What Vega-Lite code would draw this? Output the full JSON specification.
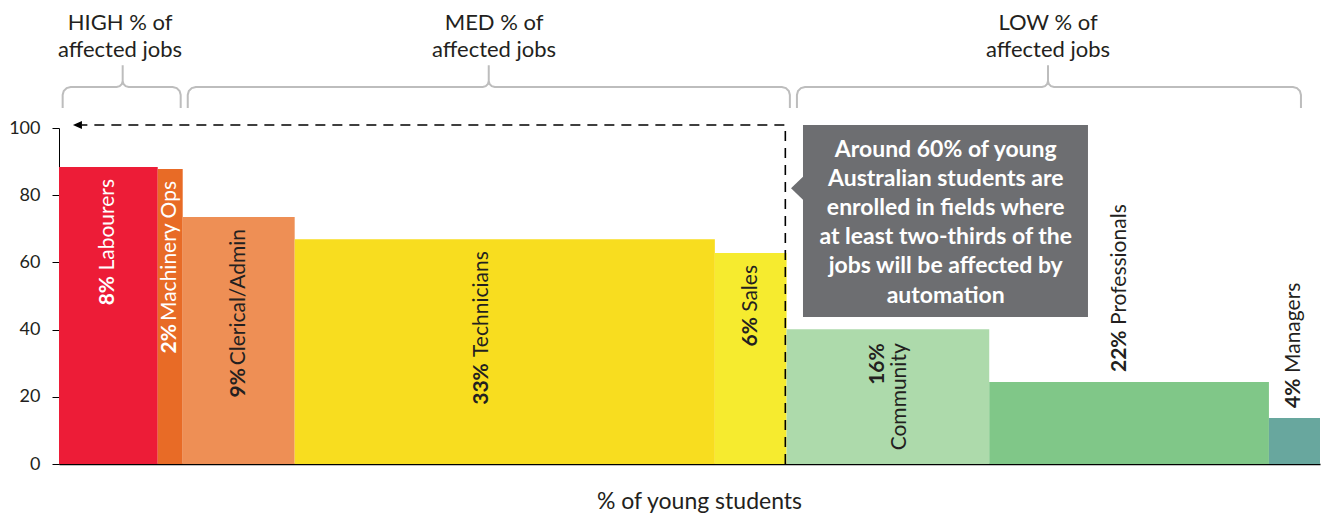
{
  "$schema": "https://vega.github.io/schema/vega-lite/v6.json",
  "width": 1261,
  "height": 336,
  "autosize": {"type": "none"},
  "padding": {"left": 59, "top": 128, "right": 7, "bottom": 59},
  "background": "white",
  "config": {
    "view": {"stroke": null},
    "font": "Lato",
    "axisY": {"tickCount": 5, "grid": false, "tickSize": 7, "tickColor": "#000000", "domainColor": "#000000", "labelFontSize": 18, "labelColor": "#231f20", "labelPadding": 12, "labelFont": "Lato"},
    "axisX": {"labels": false, "ticks": false, "grid": false, "domainColor": "#000000", "domainWidth": 1.5, "titleFontSize": 23, "titleFontWeight": "normal", "titleColor": "#231f20", "titleFont": "Lato", "titlePadding": 26, "titleX": 640}
  },
  "data": {
    "values": [
      {"name": "Labourers", "pct": "8%", "x0": 0, "x1": 7.83, "top": 88.4},
      {"name": "Machinery Ops", "pct": "2%", "x0": 7.83, "x1": 9.81, "top": 87.8},
      {"name": "Clerical/Admin", "pct": "9%", "x0": 9.81, "x1": 18.69, "top": 73.5},
      {"name": "Technicians", "pct": "33%", "x0": 18.69, "x1": 52.01, "top": 66.9},
      {"name": "Sales", "pct": "6%", "x0": 52.01, "x1": 57.7, "top": 62.8},
      {"name": "Community", "pct": "16%", "x0": 57.7, "x1": 73.77, "top": 40.1},
      {"name": "Professionals", "pct": "22%", "x0": 73.77, "x1": 95.95, "top": 24.4},
      {"name": "Managers", "pct": "4%", "x0": 95.95, "x1": 100, "top": 13.7}
    ]
  },
  "layer": [
    {
      "mark": {"type": "rect"},
      "encoding": {
        "x": {"field": "x0", "type": "quantitative", "scale": {"domain": [0, 100], "nice": false}, "title": "% of young students"},
        "x2": {"field": "x1"},
        "y": {"field": "top", "type": "quantitative", "scale": {"domain": [0, 100], "nice": false}, "title": null},
        "y2": {"datum": 0},
        "color": {
          "field": "name", "type": "nominal", "legend": null,
          "scale": {
            "domain": ["Labourers", "Machinery Ops", "Clerical/Admin", "Technicians", "Sales", "Community", "Professionals", "Managers"],
            "range": ["#ED1C37", "#E86B26", "#EE8F55", "#F8DD1F", "#F6EB2F", "#ADDAAB", "#80C788", "#68A79E"]
          }
        }
      }
    },
    {
      "transform": [
        {"fold": ["x0", "x1"], "as": ["edge", "xv"]},
        {"aggregate": [{"op": "mean", "field": "xv", "as": "mid"}], "groupby": ["name", "pct", "top"]}
      ],
      "mark": {
        "type": "text", "angle": 270, "baseline": "middle", "fontSize": 21, "font": "Lato",
        "align": {"expr": "datum.top < 30 ? 'left' : 'right'"},
        "dx": {"expr": "datum.top < 30 ? 21 + 12*length(datum.pct) : (datum.name == 'Community' ? -14 : -12)"},
        "dy": {"expr": "datum.name == 'Technicians' ? -23 : datum.name == 'Community' ? 12 : datum.name == 'Professionals' ? -9 : 0"}
      },
      "encoding": {
        "x": {"field": "mid", "type": "quantitative", "title": "% of young students"},
        "y": {"field": "top", "type": "quantitative", "title": null},
        "text": {"field": "name"},
        "color": {"condition": {"test": "datum.name == 'Labourers' || datum.name == 'Machinery Ops'", "value": "#ffffff"}, "value": "#231f20"}
      }
    },
    {
      "transform": [
        {"fold": ["x0", "x1"], "as": ["edge", "xv"]},
        {"aggregate": [{"op": "mean", "field": "xv", "as": "mid"}], "groupby": ["name", "pct", "top"]}
      ],
      "mark": {
        "type": "text", "angle": 270, "baseline": "middle", "fontSize": 21, "font": "Lato", "fontWeight": "bold",
        "align": {"expr": "datum.top < 30 ? 'left' : 'right'"},
        "dx": {"expr": "datum.top < 30 ? 10 : (datum.name == 'Community' ? -14 : -(17 + ({'Labourers': 92, 'Machinery Ops': 138, 'Clerical/Admin': 134, 'Technicians': 107, 'Sales': 47})[datum.name]))"},
        "dy": {"expr": "datum.name == 'Technicians' ? -23 : datum.name == 'Community' ? -10 : datum.name == 'Professionals' ? -9 : 0"}
      },
      "encoding": {
        "x": {"field": "mid", "type": "quantitative", "title": "% of young students"},
        "y": {"field": "top", "type": "quantitative", "title": null},
        "text": {"field": "pct"},
        "color": {"condition": {"test": "datum.name == 'Labourers' || datum.name == 'Machinery Ops'", "value": "#ffffff"}, "value": "#231f20"}
      }
    },
    {
      "data": {"values": [
        {"o": 1, "x": 57.6, "y": 0},
        {"o": 2, "x": 57.6, "y": 100.9},
        {"o": 3, "x": 1.82, "y": 100.9}
      ]},
      "mark": {"type": "line", "color": "#000000", "strokeWidth": 1.6, "strokeDash": [10, 7]},
      "encoding": {
        "x": {"field": "x", "type": "quantitative", "title": "% of young students"},
        "y": {"field": "y", "type": "quantitative", "title": null},
        "order": {"field": "o", "type": "quantitative"}
      }
    },
    {
      "data": {"values": [{"x": 1.82, "y": 100.9}]},
      "mark": {"type": "point", "shape": "M0,-1L-2.25,0L0,1Z", "filled": true, "color": "#000000", "opacity": 1, "size": 64, "strokeWidth": 0},
      "encoding": {
        "x": {"field": "x", "type": "quantitative", "title": "% of young students"},
        "y": {"field": "y", "type": "quantitative", "title": null}
      }
    },
    {
      "data": {"values": [{"x": 59.0, "x2": 81.6, "y": 100.9, "y2": 43.75}]},
      "mark": {"type": "rect", "color": "#6D6E71"},
      "encoding": {
        "x": {"field": "x", "type": "quantitative", "title": "% of young students"},
        "x2": {"field": "x2"},
        "y": {"field": "y", "type": "quantitative", "title": null},
        "y2": {"field": "y2"}
      }
    },
    {
      "data": {"values": [{"x": 59.0, "y": 82.1}]},
      "mark": {"type": "point", "shape": "M0,-1L-1.04,0L0,1Z", "filled": true, "color": "#6D6E71", "opacity": 1, "size": 529, "strokeWidth": 0},
      "encoding": {
        "x": {"field": "x", "type": "quantitative", "title": "% of young students"},
        "y": {"field": "y", "type": "quantitative", "title": null}
      }
    },
    {
      "data": {"values": [{"note": "Around 60% of young\nAustralian students are\nenrolled in fields where\nat least two-thirds of the\njobs will be affected by\nautomation"}]},
      "mark": {"type": "text", "align": "center", "baseline": "alphabetic", "lineBreak": "\n", "lineHeight": 29.2, "fontSize": 23, "fontWeight": "bold", "font": "Lato", "color": "#ffffff"},
      "encoding": {
        "x": {"datum": 70.32, "type": "quantitative"},
        "y": {"datum": 91.46, "type": "quantitative"},
        "text": {"field": "note"}
      }
    },
    {
      "data": {"values": [
        {"b": "HIGH", "o": 1, "x": 0.29, "y": 105.95}, {"b": "HIGH", "o": 2, "x": 0.29, "y": 109.82}, {"b": "HIGH", "o": 3, "x": 0.375, "y": 111.01}, {"b": "HIGH", "o": 4, "x": 0.607, "y": 111.88}, {"b": "HIGH", "o": 5, "x": 0.925, "y": 112.2},
        {"b": "HIGH", "o": 6, "x": 4.574, "y": 112.2}, {"b": "HIGH", "o": 7, "x": 4.812, "y": 112.44}, {"b": "HIGH", "o": 8, "x": 4.987, "y": 113.1}, {"b": "HIGH", "o": 9, "x": 5.05, "y": 113.99}, {"b": "HIGH", "o": 10, "x": 5.05, "y": 118.7},
        {"b": "HIGH", "o": 11, "x": 5.05, "y": 113.99}, {"b": "HIGH", "o": 12, "x": 5.113, "y": 113.1}, {"b": "HIGH", "o": 13, "x": 5.288, "y": 112.44}, {"b": "HIGH", "o": 14, "x": 5.526, "y": 112.2},
        {"b": "HIGH", "o": 15, "x": 9.015, "y": 112.2}, {"b": "HIGH", "o": 16, "x": 9.333, "y": 111.88}, {"b": "HIGH", "o": 17, "x": 9.565, "y": 111.01}, {"b": "HIGH", "o": 18, "x": 9.65, "y": 109.82}, {"b": "HIGH", "o": 19, "x": 9.65, "y": 105.95},
        {"b": "MED", "o": 1, "x": 10.21, "y": 105.95}, {"b": "MED", "o": 2, "x": 10.21, "y": 109.82}, {"b": "MED", "o": 3, "x": 10.295, "y": 111.01}, {"b": "MED", "o": 4, "x": 10.527, "y": 111.88}, {"b": "MED", "o": 5, "x": 10.845, "y": 112.2},
        {"b": "MED", "o": 6, "x": 33.604, "y": 112.2}, {"b": "MED", "o": 7, "x": 33.842, "y": 112.44}, {"b": "MED", "o": 8, "x": 34.017, "y": 113.1}, {"b": "MED", "o": 9, "x": 34.08, "y": 113.99}, {"b": "MED", "o": 10, "x": 34.08, "y": 118.7},
        {"b": "MED", "o": 11, "x": 34.08, "y": 113.99}, {"b": "MED", "o": 12, "x": 34.143, "y": 113.1}, {"b": "MED", "o": 13, "x": 34.318, "y": 112.44}, {"b": "MED", "o": 14, "x": 34.556, "y": 112.2},
        {"b": "MED", "o": 15, "x": 57.325, "y": 112.2}, {"b": "MED", "o": 16, "x": 57.643, "y": 111.88}, {"b": "MED", "o": 17, "x": 57.875, "y": 111.01}, {"b": "MED", "o": 18, "x": 57.96, "y": 109.82}, {"b": "MED", "o": 19, "x": 57.96, "y": 105.95},
        {"b": "LOW", "o": 1, "x": 58.52, "y": 105.95}, {"b": "LOW", "o": 2, "x": 58.52, "y": 109.82}, {"b": "LOW", "o": 3, "x": 58.605, "y": 111.01}, {"b": "LOW", "o": 4, "x": 58.837, "y": 111.88}, {"b": "LOW", "o": 5, "x": 59.155, "y": 112.2},
        {"b": "LOW", "o": 6, "x": 77.954, "y": 112.2}, {"b": "LOW", "o": 7, "x": 78.192, "y": 112.44}, {"b": "LOW", "o": 8, "x": 78.367, "y": 113.1}, {"b": "LOW", "o": 9, "x": 78.43, "y": 113.99}, {"b": "LOW", "o": 10, "x": 78.43, "y": 118.7},
        {"b": "LOW", "o": 11, "x": 78.43, "y": 113.99}, {"b": "LOW", "o": 12, "x": 78.493, "y": 113.1}, {"b": "LOW", "o": 13, "x": 78.668, "y": 112.44}, {"b": "LOW", "o": 14, "x": 78.906, "y": 112.2},
        {"b": "LOW", "o": 15, "x": 97.855, "y": 112.2}, {"b": "LOW", "o": 16, "x": 98.173, "y": 111.88}, {"b": "LOW", "o": 17, "x": 98.405, "y": 111.01}, {"b": "LOW", "o": 18, "x": 98.49, "y": 109.82}, {"b": "LOW", "o": 19, "x": 98.49, "y": 105.95}
      ]},
      "mark": {"type": "line", "color": "#BDBDBD", "strokeWidth": 2},
      "encoding": {
        "x": {"field": "x", "type": "quantitative", "title": "% of young students"},
        "y": {"field": "y", "type": "quantitative", "title": null},
        "detail": {"field": "b"},
        "order": {"field": "o", "type": "quantitative"}
      }
    },
    {
      "data": {"values": [
        {"label": "HIGH % of\naffected jobs", "at": 4.84},
        {"label": "MED % of\naffected jobs", "at": 34.5},
        {"label": "LOW % of\naffected jobs", "at": 78.43}
      ]},
      "mark": {"type": "text", "align": "center", "baseline": "alphabetic", "lineBreak": "\n", "lineHeight": 27, "fontSize": 22, "font": "Lato", "color": "#231f20"},
      "encoding": {
        "x": {"field": "at", "type": "quantitative", "title": "% of young students"},
        "y": {"datum": 129.2, "type": "quantitative"},
        "text": {"field": "label"}
      }
    }
  ]
}
